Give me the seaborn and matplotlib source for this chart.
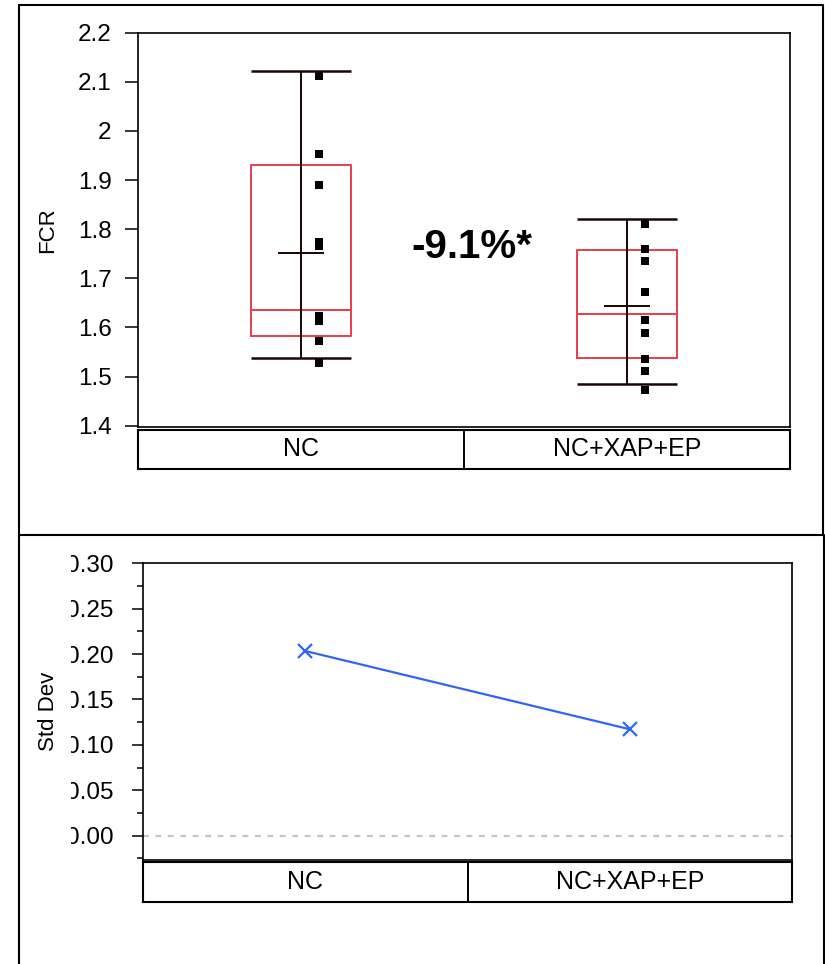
import numpy as np
import pandas as pd
import matplotlib
matplotlib.use("Agg")
import matplotlib.pyplot as plt
from matplotlib.lines import Line2D
from matplotlib.transforms import Bbox, TransformedBbox
import seaborn as sns

# ---- data -------------------------------------------------------------
groups = ["NC", "NC+XAP+EP"]
nc_fcr = [2.111, 1.952, 1.889, 1.773, 1.765, 1.623, 1.614, 1.572, 1.527]
trt_fcr = [1.810, 1.760, 1.735, 1.673, 1.615, 1.588, 1.535, 1.512, 1.473]
box_q1 = [1.583, 1.538]
box_median = [1.635, 1.627]
box_q3 = [1.931, 1.758]
whisker_lo = [1.538, 1.485]
whisker_hi = [2.121, 1.821]
group_mean = [1.751, 1.644]
std_dev = [0.2034, 0.1172]
change_label = "-9.1%*"
fcr_ticks = [1.4, 1.5, 1.6, 1.7, 1.8, 1.9, 2.0, 2.1, 2.2]
fcr_ticklabels = ["1.4", "1.5", "1.6", "1.7", "1.8", "1.9", "2", "2.1", "2.2"]
sd_ticks = [0.00, 0.05, 0.10, 0.15, 0.20, 0.25, 0.30]
sd_ticklabels = ["0.00", "0.05", "0.10", "0.15", "0.20", "0.25", "0.30"]

# ---- style ------------------------------------------------------------
sns.set_style("white")
plt.rcParams["font.family"] = ["Liberation Sans", "DejaVu Sans"]
plt.rcParams.update({
    "axes.edgecolor": "black",
    "text.color": "black",
    "axes.labelcolor": "black",
    "xtick.color": "black",
    "ytick.color": "black",
})

BOX_RED = "#ea3a50"
STEM = "#1a0505"
LINE_BLUE = "#2f66f5"
TICK_FS = 17.5
CAT_FS = 18

W, H = 825, 964
fig = plt.figure(figsize=(W / 100, H / 100), dpi=100)


def px_axes(left, top, right, bottom):
    return fig.add_axes([left / W, 1 - bottom / H, (right - left) / W, (bottom - top) / H])


def fig_line(xs, ys, lw=1.5):
    fig.add_artist(Line2D([x / W for x in xs], [1 - y / H for y in ys],
                          color="black", lw=lw, transform=fig.transFigure))


# outer panel frames
fig_line([19, 823, 823, 19, 19], [5, 5, 535, 535, 5])
fig_line([19, 19], [535, 970])
fig_line([824, 824], [535, 970])

# ---- upper panel: FCR distribution ------------------------------------
ax = px_axes(138, 32.6, 790, 427)
pos = np.arange(len(groups))
box_w = 0.307
stats = [dict(med=m, q1=a, q3=b, whislo=a, whishi=b, fliers=[])
         for m, a, b in zip(box_median, box_q1, box_q3)]
ax.bxp(stats, positions=pos, widths=box_w, showcaps=False, showfliers=False,
       boxprops=dict(color=BOX_RED, lw=1.4),
       medianprops=dict(color=BOX_RED, lw=1.4),
       whiskerprops=dict(lw=0), manage_ticks=False)
ax.vlines(pos, whisker_lo, whisker_hi, color=STEM, lw=1.4, zorder=3)
ax.hlines(whisker_lo, pos - box_w / 2, pos + box_w / 2, color=STEM, lw=1.8, zorder=3)
ax.hlines(whisker_hi, pos - box_w / 2, pos + box_w / 2, color=STEM, lw=1.8, zorder=3)
ax.hlines(group_mean, pos - 0.072, pos + 0.072, color=STEM, lw=1.4, zorder=3)

pts = pd.DataFrame({
    "group": ["NC"] * len(nc_fcr) + ["NC+XAP+EP"] * len(trt_fcr),
    "FCR": nc_fcr + trt_fcr,
})
pts["x"] = pts["group"].map({g: i for i, g in enumerate(groups)}) + 0.055
sns.scatterplot(data=pts, x="x", y="FCR", marker="s", color="black",
                s=30, linewidth=0, ax=ax, zorder=4)

ax.text(0.5115, 0.457, change_label, transform=ax.transAxes, ha="center",
        va="center", fontsize=29, fontweight="bold")

ax.set_xlim(-0.5, 1.5)
ax.set_ylim(1.3974, 2.2)
ax.set_xticks([])
ax.set_yticks(fcr_ticks)
ax.set_yticklabels(fcr_ticklabels)
ax.tick_params(axis="y", direction="out", length=9.5, width=1.1, pad=9.5,
               labelsize=TICK_FS, left=True)
ax.set_xlabel("")
ax.set_ylabel("FCR", fontsize=16)
ax.yaxis.set_label_coords(-0.122, 0.5)
for s in ax.spines.values():
    s.set_linewidth(1.2)

# category strip under the upper panel
cx = px_axes(138, 429.5, 790, 469)
cx.set_xlim(-0.5, 1.5)
cx.set_ylim(0, 1)
cx.axvline(0.5, color="black", lw=1.4)
for i, g in enumerate(groups):
    cx.text(i, 0.5, g, ha="center", va="center", fontsize=CAT_FS)
cx.set_xticks([])
cx.set_yticks([])
for s in cx.spines.values():
    s.set_linewidth(1.5)

# ---- lower panel: standard deviation ----------------------------------
bx = px_axes(143, 563.3, 792, 860)
sd = pd.DataFrame({"x": np.arange(len(groups)), "sd": std_dev})
sns.lineplot(data=sd, x="x", y="sd", color=LINE_BLUE, lw=1.6, marker="x",
             markersize=10, markeredgewidth=1.6, markeredgecolor=LINE_BLUE, ax=bx)
bx.axhline(0, color="#c4c4c4", lw=1.6, ls=(0, (2.6, 3)), zorder=0)
bx.set_xlim(-0.5, 1.5)
bx.set_ylim(-0.0268, 0.30)
bx.set_xticks([])
bx.set_yticks(sd_ticks)
bx.set_yticklabels(sd_ticklabels)
bx.set_yticks(np.arange(-0.025, 0.30, 0.05), minor=True)
bx.tick_params(axis="y", which="major", direction="out", length=8, width=1.1,
               pad=13.5, labelsize=TICK_FS, left=True)
bx.tick_params(axis="y", which="minor", direction="out", length=4, width=1.1,
               left=True)
bx.set_xlabel("")
bx.set_ylabel("Std Dev", fontsize=16)
bx.yaxis.set_label_coords(-0.13, 0.5)
for s in bx.spines.values():
    s.set_linewidth(1.2)

# the value labels are cut at the panel's left margin
clip = TransformedBbox(Bbox([[71 / W, 0], [1, 1]]), fig.transFigure)
for t in bx.get_yticklabels():
    t.set_clip_box(clip)
    t.set_clip_on(True)

# category strip under the lower panel
dx = px_axes(143, 862, 792, 901.5)
dx.set_xlim(-0.5, 1.5)
dx.set_ylim(0, 1)
dx.axvline(0.5, color="black", lw=1.4)
for i, g in enumerate(groups):
    dx.text(i, 0.5, g, ha="center", va="center", fontsize=CAT_FS)
dx.set_xticks([])
dx.set_yticks([])
for s in dx.spines.values():
    s.set_linewidth(1.5)

fig.savefig("out.png", dpi=100, facecolor="white")
